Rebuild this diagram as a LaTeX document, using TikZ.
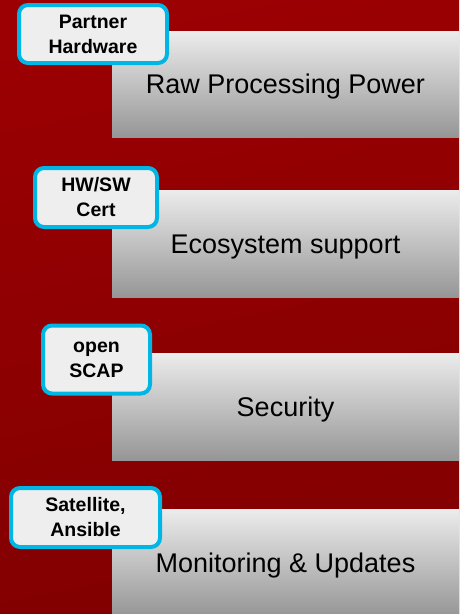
\documentclass[tikz,border=0pt]{standalone}
\usepackage{fontspec}
\setmainfont{Liberation Sans}
\definecolor{bgT}{RGB}{160,0,3}
\definecolor{bgB}{RGB}{124,0,0}
\definecolor{boxTop}{RGB}{236,236,236}
\definecolor{boxBot}{RGB}{150,150,150}
\definecolor{tagBorder}{RGB}{0,182,228}
\definecolor{tagFill}{RGB}{238,238,238}
\begin{document}
\begin{tikzpicture}[x=1pt,y=-1pt,
  barbox/.style={rectangle, inner sep=0pt, top color=boxTop, bottom color=boxBot,
    font=\fontsize{27}{30}\selectfont, text=black, text height=19.5pt, text depth=0pt},
  tagbox/.style={rectangle, rounded corners=9pt, draw=tagBorder, line width=4pt,
    fill=tagFill, inner sep=0pt, align=center,
    font=\fontsize{19.5}{25}\selectfont\bfseries, text=black}]
\useasboundingbox (0,0) rectangle (459,614);
\clip (0,0) rectangle (459,614);
\shade[top color=bgT, bottom color=bgB, shading angle=12] (0,-150) rectangle (459,764);
% bars
\node[barbox, minimum width=347pt, minimum height=106pt] (b1) at (285.5,84) {Raw Processing Power};
\node[barbox, minimum width=347pt, minimum height=107pt] (b2) at (285.5,243.5) {Ecosystem support};
\node[barbox, minimum width=347pt, minimum height=107pt] (b3) at (285.5,406.5) {Security};
\node[barbox, minimum width=347pt, minimum height=107pt] (b4) at (285.5,562.5) {Monitoring \& Updates};
% tags
\node[tagbox, minimum width=148pt, minimum height=58pt] (t1) at (93,34) {Partner\\Hardware};
\node[tagbox, minimum width=122pt, minimum height=59pt] (t2) at (96,197.5) {HW/SW\\Cert};
\node[tagbox, minimum width=107pt, minimum height=68pt] (t3) at (96.5,359.5) {open\\SCAP};
\node[tagbox, minimum width=149pt, minimum height=59pt] (t4) at (85.5,517.5) {Satellite,\\Ansible};
\end{tikzpicture}
\end{document}
